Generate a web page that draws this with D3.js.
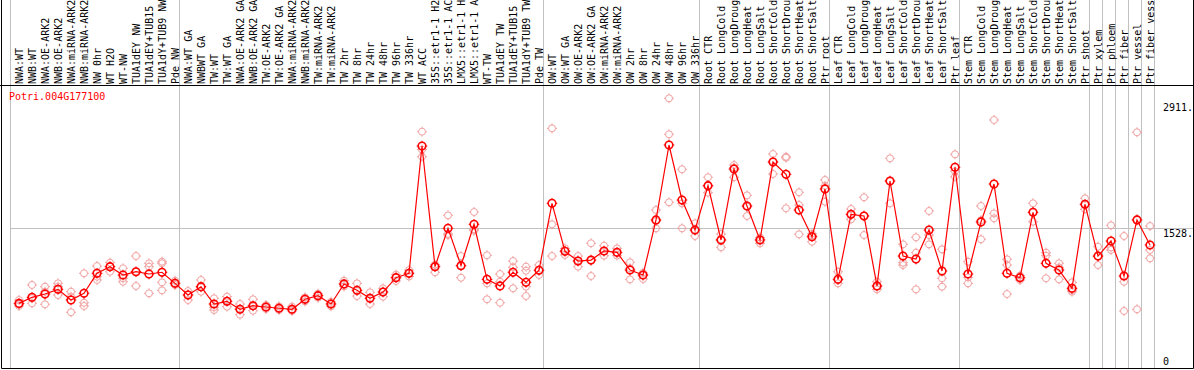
<!DOCTYPE html>
<html>
<head>
<meta charset="utf-8">
<script src="https://cdn.jsdelivr.net/npm/d3@7"></script>
<style>
  body { margin: 0; background: #fff; }
  text { font-family: "DejaVu Sans Mono", monospace; font-size: 10px; }
</style>
</head>
<body>
<svg id="chart" width="1194" height="370"></svg>
<script>
const title = "Potri.004G177100";

const labels = [
  "NWA:WT", "NWB:WT", "NWA:OE-ARK2", "NWB:OE-ARK2", "NWA:miRNA-ARK2", "NWB:miRNA-ARK2",
  "NW 0hr", "WT H2O", "WT-NW", "TUA1dEY NW", "TUA1dEY+TUB15 NW", "TUA1dY+TUB9 NW", "Pde NW",
  "NWA:WT GA", "NWBWT GA", "TW:WT", "TW:WT GA", "NWA:OE-ARK2 GA", "NWB:OE-ARK2 GA",
  "TW:OE-ARK2", "TW:OE-ARK2 GA", "NWA:miRNA-ARK2 GA", "NWB:miRNA-ARK2 GA", "TW:miRNA-ARK2",
  "TW:miRNA-ARK2", "TW 2hr", "TW 8hr", "TW 24hr", "TW 48hr", "TW 96hr", "TW 336hr", "WT ACC",
  "35S::etr1-1 H2O", "35S::etr1-1 ACC", "LMX5::etr1-1 H2O", "LMX5::etr1-1 ACC", "WT-TW",
  "TUA1dEY TW", "TUA1dEY+TUB15 TW", "TUA1dY+TUB9 TW", "Pde TW",
  "OW:WT", "OW:WT GA", "OW:OE-ARK2", "OW:OE-ARK2 GA", "OW:miRNA-ARK2", "OW:miRNA-ARK2",
  "OW 2hr", "OW 8hr", "OW 24hr", "OW 48hr", "OW 96hr", "OW 336hr",
  "Root CTR", "Root LongCold", "Root LongDrought", "Root LongHeat", "Root LongSalt",
  "Root ShortCold", "Root ShortDrought", "Root ShortHeat", "Root ShortSalt", "Ptr root",
  "Leaf CTR", "Leaf LongCold", "Leaf LongDrought", "Leaf LongHeat", "Leaf LongSalt",
  "Leaf ShortCold", "Leaf ShortDrought", "Leaf ShortHeat", "Leaf ShortSalt", "Ptr leaf",
  "Stem CTR", "Stem LongCold", "Stem LongDrought", "Stem LongHeat", "Stem LongSalt",
  "Stem ShortCold", "Stem ShortDrought", "Stem ShortHeat", "Stem ShortSalt", "Ptr shoot",
  "Ptr xylem", "Ptr phloem", "Ptr fiber", "Ptr vessel", "Ptr fiber vessel"
];

// index of the first sample of each group (last entry = end)
const groupStarts = [0, 13, 41, 53, 63, 73, 83, 84, 85, 86, 87, 88];

const means = [
  693, 760, 796, 848, 730, 804, 1025, 1098, 1006, 1042, 1017, 1036, 914,
  785, 877, 686, 716, 628, 667, 653, 639, 628, 738, 778, 686, 907, 837, 749, 818, 976, 1025,
  2429, 1098, 1521, 1109, 1565, 958, 885, 1036, 925, 1058,
  1797, 1267, 1160, 1171, 1271, 1256, 1061, 1006, 1613, 2440, 1833, 1502,
  1991, 1392, 2175, 1767, 1392, 2252, 2117, 1723, 1428, 1955,
  958, 1675, 1657, 885, 2043, 1215, 1182, 1502, 1050, 2194,
  1017, 1591, 2010, 1025, 976, 1697, 1135, 1061, 859, 1786,
  1215, 1381, 995, 1613, 1337
];

const replicates = [
  [730, 682, 664], [896, 694, 750], [877, 822, 683], [914, 877, 785], [822, 767, 595],
  [1025, 700, 664], [1105, 987, 951], [1142, 1098, 1042], [1080, 970, 932], [1215, 885, 1042],
  [1135, 1098, 804], [1153, 1135, 925, 837], [943, 896, 914],
  [829, 730, 790], [951, 822, 870], [749, 650, 620], [767, 656, 720], [686, 568, 630],
  [738, 612, 660], [675, 631, 650], [660, 620, 640], [656, 609, 625], [760, 715, 740],
  [800, 755, 780], [710, 660, 690], [943, 880, 900], [914, 774, 830], [815, 686, 750],
  [859, 767, 820], [1010, 940, 980], [1060, 990, 1025], [2587, 2311, 2390], [1120, 1036, 1100],
  [1664, 1447, 1460], [1215, 976, 1110], [1701, 1495, 1510], [1223, 914, 738], [1017, 932, 700],
  [1160, 1091, 859], [1098, 1053, 877, 774], [1116, 1006, 1060],
  [2624, 1565, 1215], [1300, 1227, 1275], [1215, 1098, 1165], [1356, 995, 1165], [1329, 1219, 1265],
  [1300, 1220, 1250], [1146, 958, 1080], [1030, 962, 1000], [1723, 1521, 1600], [2955, 2558, 1808],
  [2172, 1797, 1521], [1576, 1436, 1500],
  [2084, 1914, 1990], [1458, 1311, 1400], [2219, 2084, 2190], [1885, 1657, 1760], [1420, 1356, 1400],
  [2341, 2120, 2260], [2300, 1742, 2310], [1918, 1778, 1455], [1460, 1373, 1440], [2054, 1814, 1990],
  [1042, 914, 950], [1734, 1620, 1670], [1863, 1447, 1660], [932, 848, 880], [2293, 1797, 2040],
  [1344, 1142, 1116], [1422, 1252, 848], [1712, 1447, 1344], [1289, 970, 877], [2337, 2090, 2150],
  [1153, 914, 980], [1767, 1400, 1610], [2716, 1686, 1631], [1179, 1116, 796], [1000, 950, 980],
  [1797, 1594, 1700], [1252, 1219, 970], [1135, 958, 1090], [925, 822, 840], [1852, 1731, 1780],
  [1318, 1116, 1210], [1554, 1282, 1310], [1436, 932, 609], [2580, 628, 1620], [1546, 1282, 1190]
];

const yTicks = [0, 1528, 2911];

const svg = d3.select("#chart"),
      W = 1194, H = 370,
      headerY = 85, bottomY = 368,
      maxChars = 14;   // the header only has room for 14 characters

const x = d3.scaleBand()
    .domain(d3.range(labels.length))
    .range([11, 1155]);

const y = d3.scaleLinear()
    .domain([0, 2911])
    .range([366.2, 102.3]);

const px = i => x(i) + 8;

svg.append("rect").attr("width", W).attr("height", H).attr("fill", "#fff");

// grid: horizontal mid line
svg.append("line")
    .attr("x1", 10).attr("x2", 1193)
    .attr("y1", Math.round(y(1528)) + 0.5).attr("y2", Math.round(y(1528)) + 0.5)
    .attr("stroke", "#c0c0c0");

// group separators
svg.selectAll(".sep")
    .data(groupStarts)
    .enter()
    .append("line")
    .attr("class", "sep")
    .attr("x1", d => Math.floor(d === labels.length ? 1155 : x(d)) - 0.5)
    .attr("x2", d => Math.floor(d === labels.length ? 1155 : x(d)) - 0.5)
    .attr("y1", 0).attr("y2", bottomY)
    .attr("stroke", "#c0c0c0");

// header separator + frame
svg.append("line")
    .attr("x1", 0).attr("x2", W)
    .attr("y1", headerY + 0.5).attr("y2", headerY + 0.5)
    .attr("stroke", "#000");
svg.append("path")
    .attr("d", `M1.5,0V${bottomY + 0.5}H1193.5V0`)
    .attr("fill", "none")
    .attr("stroke", "#000");

// sample labels
svg.selectAll(".lab")
    .data(labels)
    .enter()
    .append("text")
    .attr("class", "lab")
    .attr("transform", (d, i) => `translate(${px(i) + 4},${headerY - 1}) rotate(-90)`)
    .attr("fill", "#000")
    .text(d => d.slice(0, maxChars));

// title
svg.append("text")
    .attr("x", 9).attr("y", 100)
    .attr("fill", "#ff0000")
    .text(title);

// y labels on the right
svg.selectAll(".ylab")
    .data(yTicks)
    .enter()
    .append("text")
    .attr("class", "ylab")
    .attr("x", 1163)
    .attr("y", d => Math.min(y(d) + 9, 365))
    .attr("fill", "#000")
    .text(d => d === 0 ? "0" : d + ".");

// circle marker with four small ticks
function addMarkers(sel, r, color, sw) {
  sel.append("circle")
      .attr("r", r)
      .attr("fill", "none")
      .attr("stroke", color)
      .attr("stroke-width", sw);
  sel.append("path")
      .attr("d", `M0,${-r - 1.5}V${-r}M0,${r + 1.5}V${r}M${-r - 1.5},0H${-r}M${r + 1.5},0H${r}`)
      .attr("stroke", color)
      .attr("stroke-width", 1);
}

// replicates
const repPts = [];
replicates.forEach((arr, i) => arr.forEach(v => repPts.push({ i, v })));

svg.selectAll(".rep")
    .data(repPts)
    .enter()
    .append("g")
    .attr("class", "rep")
    .attr("transform", d => `translate(${px(d.i)},${y(d.v)})`)
    .call(addMarkers, 3.5, "#f0a0a0", 1);

// mean line
svg.append("path")
    .datum(means)
    .attr("fill", "none")
    .attr("stroke", "#ff0000")
    .attr("stroke-width", 1.2)
    .attr("d", d3.line().x((d, i) => px(i)).y(d => y(d)));

// means
svg.selectAll(".mean")
    .data(means)
    .enter()
    .append("g")
    .attr("class", "mean")
    .attr("transform", (d, i) => `translate(${px(i)},${y(d)})`)
    .call(addMarkers, 3.8, "#ff0000", 1.6);
</script>
</body>
</html>
